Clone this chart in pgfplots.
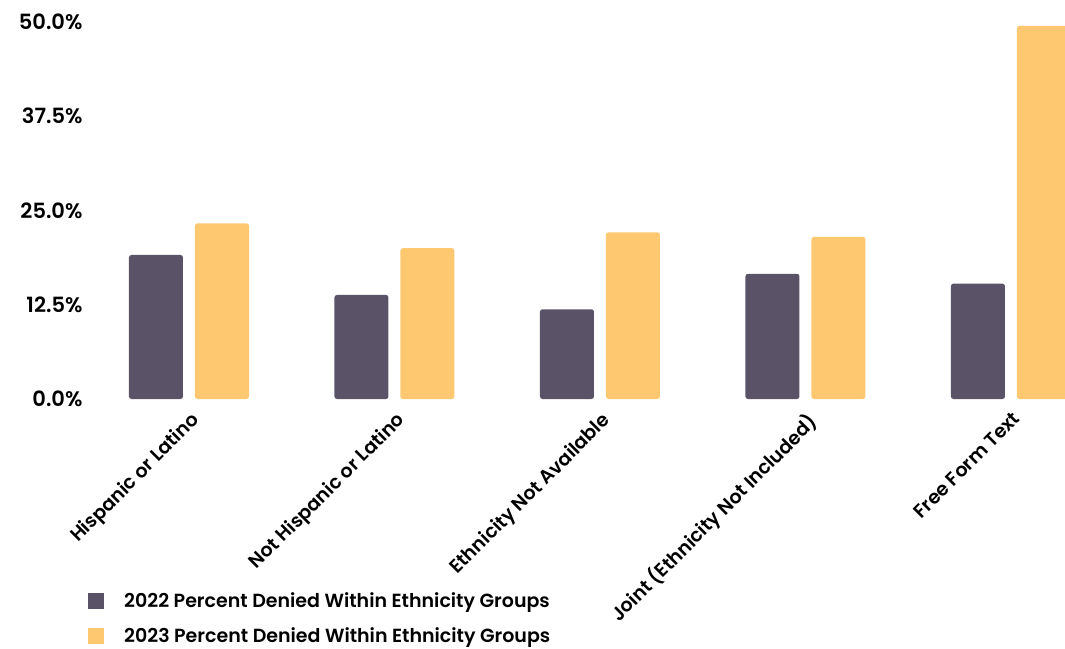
\documentclass[border=0pt]{standalone}
\usepackage{pgfplots}
\pgfplotsset{compat=1.18}
\usepackage{fontspec}
\setmainfont{Poppins SemiBold}
\definecolor{c22}{RGB}{90,83,104}
\definecolor{c23}{RGB}{253,200,112}
\begin{document}
\begin{tikzpicture}[x=1pt,y=1pt]
\begin{axis}[
 at={(88pt,249pt)}, anchor=south west,
 scale only axis, width=977pt, height=377pt,
 xmin=-0.4915, xmax=4.263, ymin=0, ymax=50,
 ybar=12pt, bar width=54pt,
 axis line style={draw=none}, tick style={draw=none}, major tick length=0pt,
 ytick={0,12.5,25,37.5,50}, yticklabels={0.0\%,12.5\%,25.0\%,37.5\%,50.0\%},
 xtick={0,1,2,3,4},
 xticklabels={Hispanic or Latino, Not Hispanic or Latino, Ethnicity Not Available, Joint (Ethnicity Not Included), Free Form Text},
 xticklabel style={rotate=45, anchor=north east, yshift=-5.1pt, xshift=-4.4pt, font=\fontsize{19}{20}\selectfont},
 yticklabel style={font=\fontsize{21}{22}\selectfont, xshift=-2pt},
 legend style={at={(0,-0.507)}, anchor=north west, draw=none, fill=none, inner sep=0pt,
   font=\fontsize{19}{20}\selectfont, row sep=15pt, column sep=18pt, cells={anchor=west}},
 legend cell align=left,
 legend image code/.code={\path[#1,draw=none,rounded corners=0pt] (0pt,-8pt) rectangle (16pt,8pt);},
]
\addplot[fill=c22, draw=none, rounded corners=2.5pt] coordinates {(0,19.1) (1,13.8) (2,11.9) (3,16.6) (4,15.3)};
\addplot[fill=c23, draw=none, rounded corners=2.5pt] coordinates {(0,23.3) (1,20.0) (2,22.1) (3,21.5) (4,49.5)};
\legend{2022 Percent Denied Within Ethnicity Groups, 2023 Percent Denied Within Ethnicity Groups}
\end{axis}
\pgfresetboundingbox
\useasboundingbox (0,0) rectangle (1065pt,648pt);
\end{tikzpicture}
\end{document}
